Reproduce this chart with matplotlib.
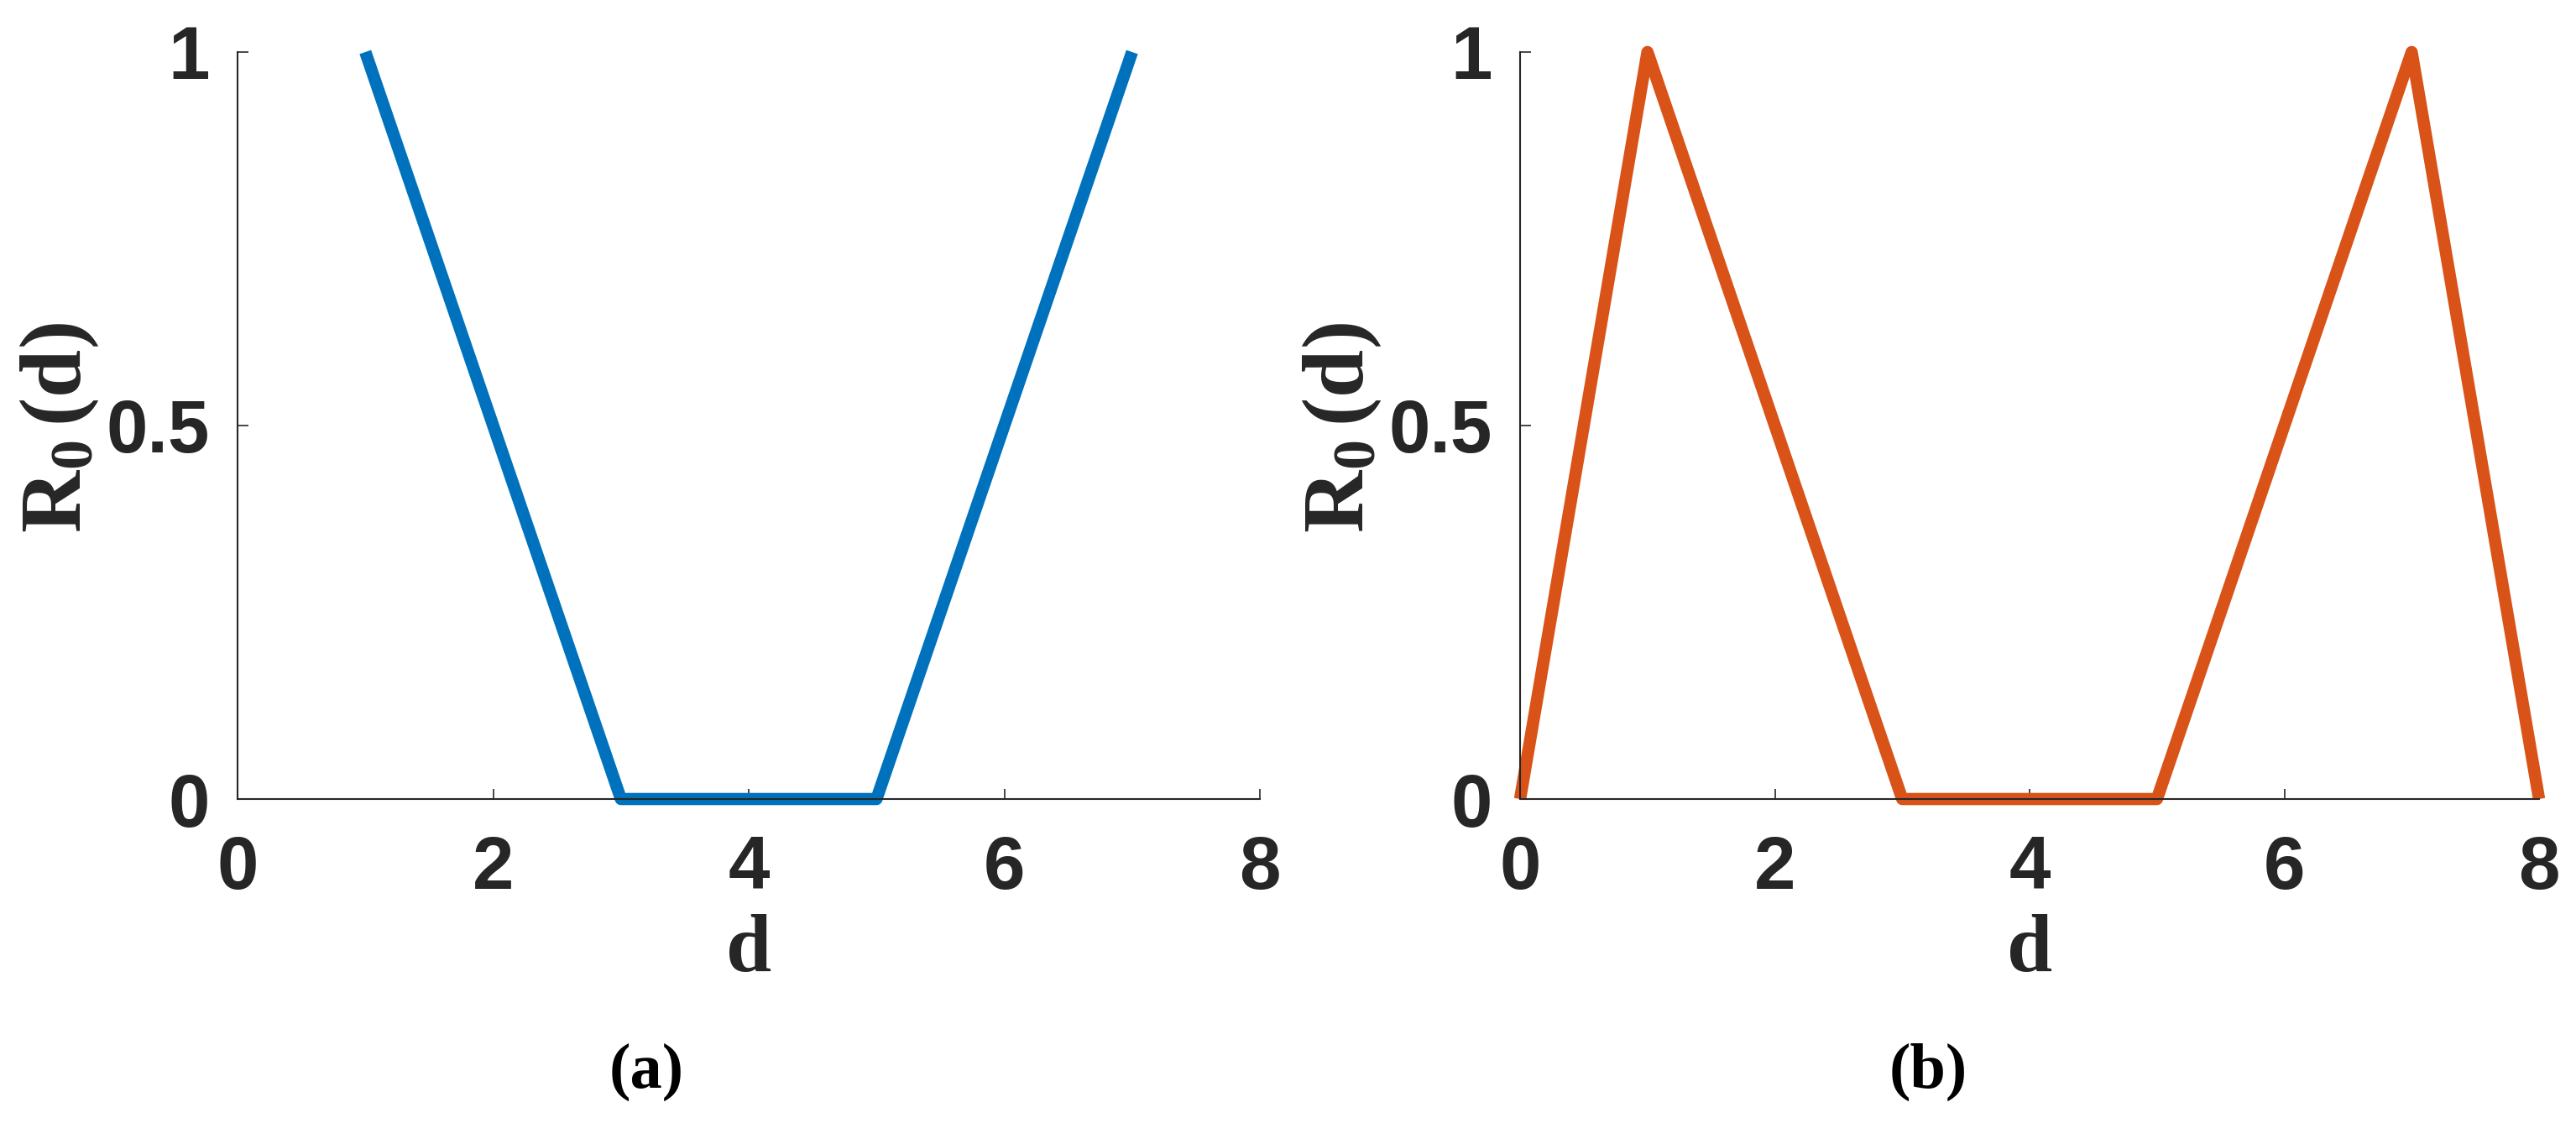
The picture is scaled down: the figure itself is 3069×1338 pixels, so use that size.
import matplotlib
matplotlib.use('Agg')
import matplotlib.pyplot as plt

# data
d_a = [1, 3, 5, 7]
r_a = [1, 0, 0, 1]
d_b = [0, 1, 3, 5, 7, 8]
r_b = [0, 1, 0, 0, 1, 0]
xticks = [0, 2, 4, 6, 8]
yticks = [0, 0.5, 1]
ytick_labels = ['0', '0.5', '1']

plt.rcParams['mathtext.fontset'] = 'custom'
plt.rcParams['mathtext.rm'] = 'Liberation Serif:bold'
plt.rcParams['mathtext.bf'] = 'Liberation Serif:bold'
plt.rcParams['mathtext.it'] = 'Liberation Serif:bold'

W, H = 3069, 1338
fig = plt.figure(figsize=(W / 100, H / 100), dpi=100)

txt = '#262626'
panels = [
    (283, 1501, d_a, r_a, '#0072BD', '(a)', 770, 70),
    (1811, 3025, d_b, r_b, '#D95319', '(b)', 2297, 1598),
]

for x0, x1, xs, ys, col, cap, capx, ylx in panels:
    ax = fig.add_axes([x0 / W, (H - 952) / H, (x1 - x0) / W, (952 - 62) / H])
    ax.plot(xs, ys, color=col, linewidth=10.5, solid_joinstyle='round',
            solid_capstyle='butt', clip_on=False)
    ax.set_xlim(0, 8)
    ax.set_ylim(0, 1)
    ax.set_xticks(xticks)
    ax.set_yticks(yticks)
    ax.set_yticklabels(ytick_labels)
    ax.spines['top'].set_visible(False)
    ax.spines['right'].set_visible(False)
    for s in ['left', 'bottom']:
        ax.spines[s].set_linewidth(1.5)
        ax.spines[s].set_color(txt)
    ax.tick_params(direction='in', length=9, width=1.2, color=txt,
                   labelsize=64, labelcolor=txt)
    ax.tick_params(axis='x', pad=30)
    ax.tick_params(axis='y', pad=24)
    for lab in ax.get_xticklabels() + ax.get_yticklabels():
        lab.set_fontfamily('Liberation Sans')
        lab.set_fontweight('bold')
    ax.set_xlabel('d', fontsize=70, family='Liberation Serif',
                  fontweight='bold', color=txt, labelpad=8)
    fig.text(ylx / W, (H - 510) / H, r'$\mathrm{R_{0}\,(d)}$', rotation=90,
             ha='center', va='center', fontsize=74, color=txt)
    fig.text(capx / W, (H - 1277) / H, cap, ha='center', va='center',
             fontsize=55, family='Liberation Serif', fontweight='bold',
             color='black')

fig.savefig('out.png', dpi=100)
